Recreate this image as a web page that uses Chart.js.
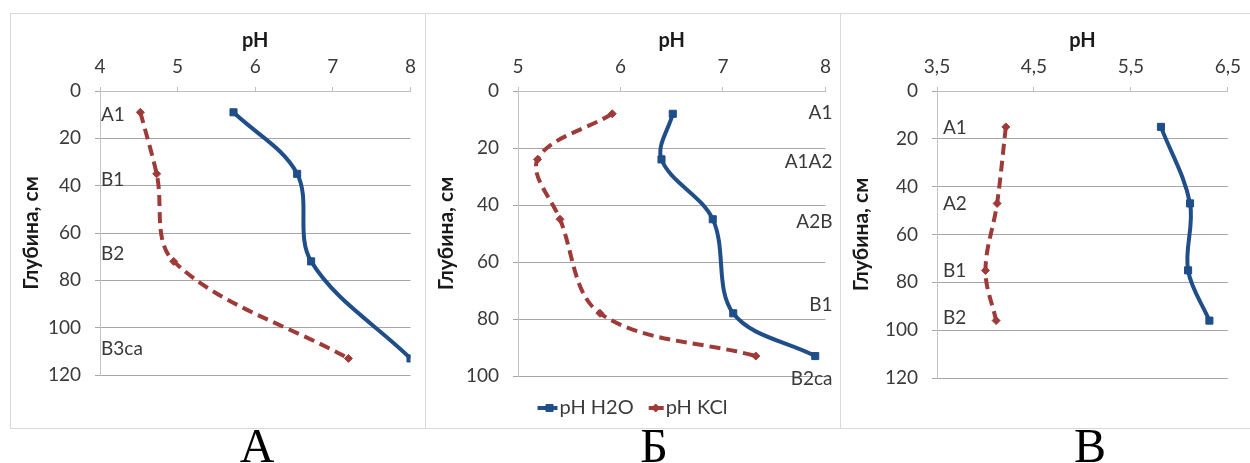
<!DOCTYPE html>
<html>
<head>
<meta charset="utf-8">
<script src="https://cdn.jsdelivr.net/npm/chart.js@4.4.1/dist/chart.umd.min.js"></script>
<style>
  html, body { margin: 0; padding: 0; background: #fff; }
  #page { position: relative; width: 1250px; height: 463px; overflow: hidden; }
  .frame { position: absolute; top: 13px; height: 416px; box-sizing: border-box; border: 1px solid #d9d9d9; }
  canvas { position: absolute; top: 13px; }
  .letter { position: absolute; top: 422px; height: 48px; line-height: 48px; width: 80px; margin-left: -40px;
            text-align: center; font-family: "Liberation Serif", "DejaVu Serif", serif; font-size: 48px; color: #000; }
</style>
</head>
<body>
<div id="page">
  <div class="frame" style="left:10px; width:416px;"></div>
  <div class="frame" style="left:425px; width:416px;"></div>
  <div class="frame" style="left:840px; width:411px;"></div>
  <canvas id="chartA" width="415" height="415" style="left:10px;"></canvas>
  <canvas id="chartB" width="415" height="415" style="left:425px;"></canvas>
  <canvas id="chartV" width="410" height="415" style="left:840px;"></canvas>
  <div class="letter" id="letterA" style="left:257px;"></div>
  <div class="letter" id="letterB" style="left:654px;"></div>
  <div class="letter" id="letterV" style="left:1090px;"></div>
</div>
<script>
// Profile A: sampling depth (cm) and pH of water / KCl extracts
const depthA = [9, 35, 72, 113];
const phH2oA = [5.72, 6.54, 6.72, 8.0];
const phKclA = [4.52, 4.73, 4.95, 7.2];
const horizonsA = ['A1', 'B1', 'B2', 'B3ca'];
const horizonDepthA = [10, 37.5, 69, 109];
const phTicksA = [4, 5, 6, 7, 8];
const depthTicksA = [0, 20, 40, 60, 80, 100, 120];

// Profile Б
const depthB = [8, 24, 45, 78, 93];
const phH2oB = [6.51, 6.40, 6.90, 7.10, 7.90];
const phKclB = [5.92, 5.19, 5.41, 5.80, 7.32];
const horizonsB = ['A1', 'A1A2', 'A2B', 'B1', 'B2ca'];
const horizonDepthB = [7.5, 25, 46, 75, 101];
const phTicksB = [5, 6, 7, 8];
const depthTicksB = [0, 20, 40, 60, 80, 100];

// Profile В
const depthV = [15, 47, 75, 96];
const phH2oV = [5.81, 6.11, 6.09, 6.31];
const phKclV = [4.21, 4.12, 4.0, 4.11];
const horizonsV = ['A1', 'A2', 'B1', 'B2'];
const horizonDepthV = [15.5, 47, 75, 95];
const phTicksV = [3.5, 4.5, 5.5, 6.5];
const depthTicksV = [0, 20, 40, 60, 80, 100, 120];

const seriesNames = ['pH H2O', 'pH KCl'];
const panelLetters = ['А', 'Б', 'В'];
const xTitleText = 'pH';
const yTitleText = 'Глубина, см';

const BLUE = '#1f4e89';
const RED = '#9e3a38';
const FONT = 'Lato, "Open Sans", sans-serif';
const TEXT = '#3a3a3a';

// Horizon names written next to the depth axis
const horizonLabels = {
  id: 'horizonLabels',
  beforeDatasetsDraw(chart, args, opts) {
    if (!opts.names) return;
    const { ctx, chartArea, scales } = chart;
    ctx.save();
    ctx.font = '19px ' + FONT;
    ctx.fillStyle = TEXT;
    ctx.textBaseline = 'middle';
    const right = opts.side === 'right';
    ctx.textAlign = right ? 'right' : 'left';
    const x = right ? chartArea.right + opts.offset : chartArea.left + opts.offset;
    opts.names.forEach((n, i) => ctx.fillText(n, x, scales.y.getPixelForValue(opts.depths[i])));
    ctx.restore();
  }
};

// Legend with a short line sample and the series marker
const lineLegend = {
  id: 'lineLegend',
  afterDraw(chart, args, opts) {
    if (!opts.show) return;
    const { ctx } = chart;
    ctx.save();
    ctx.font = opts.fontSize + 'px ' + FONT;
    ctx.textBaseline = 'middle';
    const sym = 20, gap = 2, space = 10;
    const items = chart.data.datasets.map(ds => ({ ds, w: sym + gap + ctx.measureText(ds.label).width }));
    const total = items.reduce((s, it) => s + it.w, 0) + space * (items.length - 1);
    let x = chart.width / 2 - total / 2;
    const yc = opts.y;
    items.forEach(({ ds, w }) => {
      ctx.strokeStyle = ds.borderColor;
      ctx.fillStyle = ds.borderColor;
      ctx.lineWidth = ds.borderWidth;
      ctx.setLineDash([]);
      ctx.beginPath();
      ctx.moveTo(x + (ds.borderDash ? 5 : 0), yc);
      ctx.lineTo(x + sym, yc);
      ctx.stroke();
      ctx.lineWidth = 1;
      Chart.helpers.drawPoint(ctx, { pointStyle: ds.pointStyle, radius: ds.pointRadius, borderWidth: 1, rotation: 0 }, x + sym / 2 + 2, yc);
      ctx.fillStyle = TEXT;
      ctx.fillText(ds.label, x + sym + gap, yc);
      x += w + space;
    });
    ctx.restore();
  }
};

function commaNum(v) { return String(v).replace('.', ','); }

function makePanel(id, p) {
  const toPts = (xs) => p.depth.map((d, i) => ({ x: xs[i], y: d }));
  return new Chart(document.getElementById(id), {
    type: 'scatter',
    data: {
      datasets: [
        { label: seriesNames[0], data: toPts(p.h2o), showLine: true, borderColor: BLUE, backgroundColor: BLUE,
          borderWidth: 4, tension: 0.35, pointStyle: 'rect', pointRadius: 5, pointBorderWidth: 1,
          pointBackgroundColor: BLUE, pointBorderColor: BLUE },
        { label: seriesNames[1], data: toPts(p.kcl), showLine: true, borderColor: RED, backgroundColor: RED,
          borderWidth: 4, borderDash: [11, 6], tension: 0.35, pointStyle: 'rectRot', pointRadius: 4, pointBorderWidth: 1,
          pointBackgroundColor: RED, pointBorderColor: RED }
      ]
    },
    options: {
      responsive: false,
      animation: false,
      devicePixelRatio: 1,
      layout: { padding: { left: 0, right: p.padRight, top: 8, bottom: p.padBottom } },
      plugins: {
        legend: { display: false },
        tooltip: { enabled: false },
        horizonLabels: { names: p.horizons, depths: p.horizonDepth, side: p.labelSide, offset: p.labelOffset },
        lineLegend: { show: !!p.legend, y: 395, fontSize: 20 }
      },
      scales: {
        x: {
          type: 'linear', position: 'top', min: p.phTicks[0], max: p.phTicks[p.phTicks.length - 1],
          afterBuildTicks: s => { s.ticks = p.phTicks.map(v => ({ value: v })); },
          afterFit: s => { s.height = 70; },
          ticks: { font: { family: FONT, size: 19 }, color: TEXT, padding: 9, callback: v => commaNum(v) },
          grid: { drawOnChartArea: false, drawTicks: true, tickLength: 4, color: '#bfbfbf' },
          border: { color: '#bfbfbf' },
          title: { display: true, text: xTitleText, color: '#1a1a1a', font: { family: FONT, size: 20, weight: 'bold' },
                   padding: { top: 8, bottom: 0 } }
        },
        y: {
          type: 'linear', reverse: true, min: 0, max: p.depthTicks[p.depthTicks.length - 1],
          afterBuildTicks: s => { s.ticks = p.depthTicks.map(v => ({ value: v })); },
          afterFit: s => { s.width = p.axisWidth; },
          ticks: { font: { family: FONT, size: 19 }, color: TEXT, padding: 14 },
          grid: { color: '#a6a6a6', drawTicks: true, tickLength: 5 },
          border: { color: '#c4c4c4' },
          title: { display: true, text: yTitleText, color: '#1a1a1a', font: { family: FONT, size: 21, weight: 'bold' },
                   padding: { top: 9, bottom: 0 } }
        }
      }
    },
    plugins: [horizonLabels, lineLegend]
  });
}

makePanel('chartA', { depth: depthA, h2o: phH2oA, kcl: phKclA, horizons: horizonsA, horizonDepth: horizonDepthA,
  phTicks: phTicksA, depthTicks: depthTicksA, axisWidth: 90, padRight: 12, padBottom: 53, labelSide: 'left', labelOffset: 1 });
makePanel('chartB', { depth: depthB, h2o: phH2oB, kcl: phKclB, horizons: horizonsB, horizonDepth: horizonDepthB,
  phTicks: phTicksB, depthTicks: depthTicksB, axisWidth: 93, padRight: 12, padBottom: 52, labelSide: 'right', labelOffset: 7, legend: true });
makePanel('chartV', { depth: depthV, h2o: phH2oV, kcl: phKclV, horizons: horizonsV, horizonDepth: horizonDepthV,
  phTicks: phTicksV, depthTicks: depthTicksV, axisWidth: 97, padRight: 15, padBottom: 50, labelSide: 'left', labelOffset: 6 });

document.getElementById('letterA').textContent = panelLetters[0];
document.getElementById('letterB').textContent = panelLetters[1];
document.getElementById('letterV').textContent = panelLetters[2];
</script>
</body>
</html>
